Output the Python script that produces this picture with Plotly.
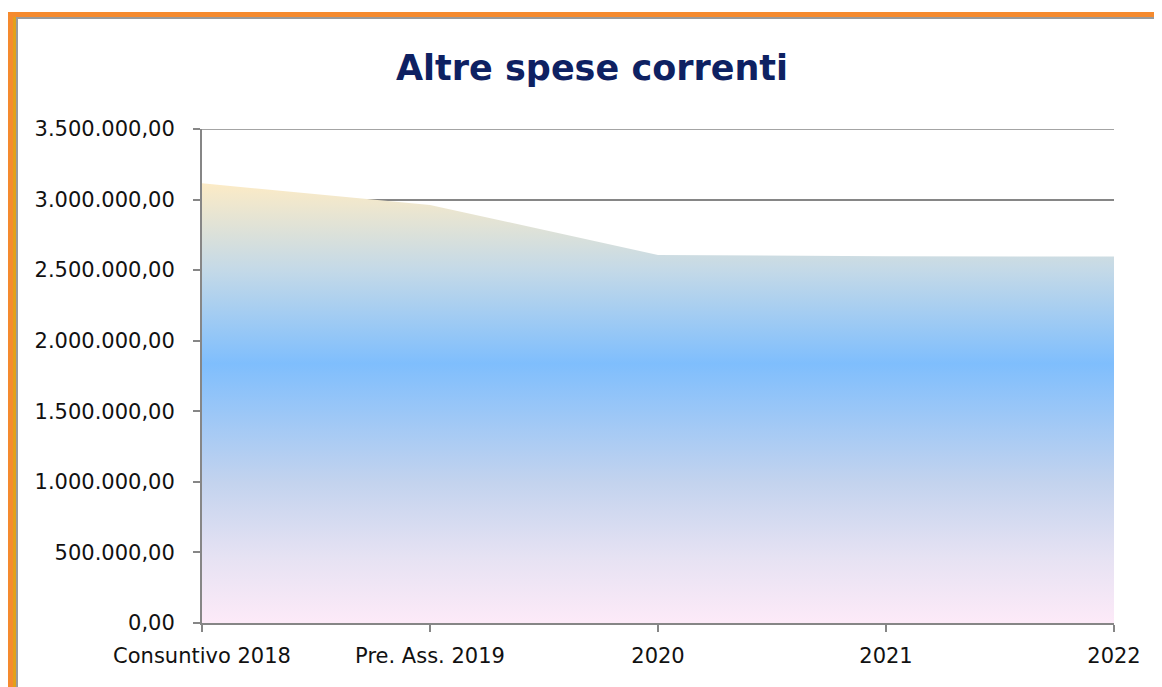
import plotly.graph_objects as go

categories = ["Consuntivo 2018", "Pre. Ass. 2019", "2020", "2021", "2022"]
values = [3115000, 2962000, 2608000, 2598000, 2597000]
y_tickvals = [0, 500000, 1000000, 1500000, 2000000, 2500000, 3000000, 3500000]
y_ticktext = ["0,00", "500.000,00", "1.000.000,00", "1.500.000,00", "2.000.000,00",
              "2.500.000,00", "3.000.000,00", "3.500.000,00"]
title_text = "Altre spese correnti"

OFF = 8  # page body margin
W, H = 1162 - OFF, 687 - OFF
L, R, T, B = 202 - OFF, 1114 - OFF, 129 - OFF, 623 - OFF  # plot area in figure pixels
PW, PH = R - L, B - T
Y_MAX = y_tickvals[-1]
GRID = "#868686"


def px(x):  # page pixel -> paper x
    return (x - OFF - L) / PW


def py(y):  # page pixel -> paper y
    return (B - (y - OFF)) / PH


fig = go.Figure()
fig.add_trace(go.Scatter(
    x=categories, y=values, mode="lines", line=dict(width=0, color="rgba(0,0,0,0)"),
    fill="tozeroy",
    fillgradient=dict(
        type="vertical",
        start=0, stop=max(values),
        colorscale=[
            [0.0, "#FDEAF8"],
            [0.15, "#E6E2F3"],
            [0.32, "#C3D3EE"],
            [0.59, "#7FBEFD"],
            [0.80, "#C3D9E8"],
            [1.0, "#FCEBC6"],
        ],
    ),
    hoverinfo="skip", showlegend=False,
))

shapes = []
orange = "#F58A2E"
gold = "#E3A019"
gray = "#9A9A9A"
shapes.append(dict(type="rect", xref="paper", yref="paper", x0=px(7), x1=px(1200),
                   y0=py(12), y1=py(17), fillcolor=orange, line=dict(width=0), layer="below"))
shapes.append(dict(type="rect", xref="paper", yref="paper", x0=px(7), x1=px(13),
                   y0=py(12), y1=py(720), fillcolor=orange, line=dict(width=0), layer="below"))
shapes.append(dict(type="rect", xref="paper", yref="paper", x0=px(13), x1=px(16),
                   y0=py(17), y1=py(720), fillcolor=gold, line=dict(width=0), layer="below"))
shapes.append(dict(type="rect", xref="paper", yref="paper", x0=px(16), x1=px(1200),
                   y0=py(17), y1=py(19), fillcolor=gray, line=dict(width=0), layer="below"))
shapes.append(dict(type="rect", xref="paper", yref="paper", x0=px(16), x1=px(18),
                   y0=py(17), y1=py(720), fillcolor=gray, line=dict(width=0), layer="below"))
# top gridline (plotly skips the gridline at the range end)
shapes.append(dict(type="line", xref="paper", yref="y", x0=0, x1=1, y0=Y_MAX, y1=Y_MAX,
                   line=dict(color=GRID, width=1.5), layer="below"))

font_family = "DejaVu Sans, Verdana, sans-serif"

fig.update_layout(
    width=W, height=H,
    margin=dict(l=L, r=W - R, t=T, b=H - B),
    paper_bgcolor="white", plot_bgcolor="white",
    shapes=shapes,
    showlegend=False,
    annotations=[dict(
        text="<b>" + title_text + "</b>", xref="paper", yref="paper",
        x=px(592), y=py(68), xanchor="center", yanchor="middle", showarrow=False,
        font=dict(family=font_family, size=35, color="#0E2162"),
    )],
    xaxis=dict(
        type="category", range=[0, len(categories) - 1],
        showgrid=False, showline=True, linecolor=GRID, linewidth=2,
        ticks="outside", ticklen=7, tickcolor=GRID, tickwidth=2,
        tickfont=dict(family=font_family, size=21, color="#111111"),
        ticklabelstandoff=6,
    ),
    yaxis=dict(
        range=[0, Y_MAX], tickvals=y_tickvals, ticktext=y_ticktext,
        showgrid=True, gridcolor=GRID, gridwidth=1.5,
        showline=True, linecolor=GRID, linewidth=2, zeroline=False,
        ticks="outside", ticklen=7, tickcolor=GRID, tickwidth=2,
        tickfont=dict(family=font_family, size=21, color="#111111"),
        ticklabelstandoff=14,
    ),
)

fig.write_html("out.html")
